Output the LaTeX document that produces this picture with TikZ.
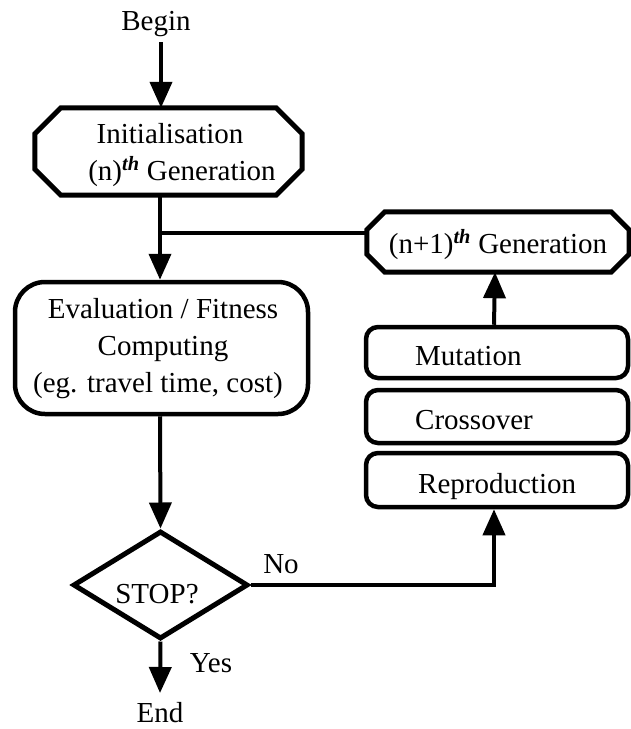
\documentclass[tikz,border=0pt]{standalone}
\usepackage{fontspec}
\setmainfont{Liberation Serif}
\usetikzlibrary{arrows.meta,shapes.geometric,calc}
\newcommand{\chamferbox}[2]{%
  \draw[line width=5pt,line join=miter]
    ([xshift=#2]#1.north west) -- ([xshift=-#2]#1.north east)
    -- ([yshift=-#2]#1.north east) -- ([yshift=#2]#1.south east)
    -- ([xshift=-#2]#1.south east) -- ([xshift=#2]#1.south west)
    -- ([yshift=#2]#1.south west) -- ([yshift=-#2]#1.north west) -- cycle;}
\tikzset{
  txt/.style={font=\fontsize{29}{37}\selectfont, inner sep=0pt},
  shell/.style={draw=none, inner sep=0pt},
  rbox/.style={draw, line width=4.5pt, rounded corners=12pt, inner sep=0pt},
  conn/.style={line width=4pt},
  arr/.style={line width=4pt, -{Triangle[width=22pt,length=26pt]}},
}
\begin{document}
\begin{tikzpicture}[x=1pt,y=-1pt]
\useasboundingbox (0,0) rectangle (631,729);
\coordinate (col) at (160,0);
% begin
\node[txt, anchor=base] (begin) at (156,30) {Begin};
\coordinate (bstart) at (161,42);
% initialisation
\node[shell, minimum width=267pt, minimum height=87pt] (init) at (168.5,151.5) {};
\chamferbox{init}{26pt}
\node[txt, anchor=base] (initA) at (170,143) {Initialisation};
\node[txt, anchor=base] (initB) at (182,180) {(n)\textsuperscript{\textbf{\textit{th}}} Generation};
% next generation
\node[shell, minimum width=262pt, minimum height=60pt] (gen1) at (498,242) {};
\chamferbox{gen1}{18pt}
\node[txt, anchor=base] (gen1t) at (498,253) {(n+1)\textsuperscript{\textbf{\textit{th}}} Generation};
% evaluation
\node[draw, line width=4.5pt, rounded corners=30pt, minimum width=293pt, minimum height=132pt, inner sep=0pt] (eval) at (161.5,348) {};
\node[txt, anchor=base] (evalA) at (163,318) {Evaluation / Fitness};
\node[txt, anchor=base] (evalB) at (163,355) {Computing};
\node[txt, anchor=base] (evalC) at (158,392) {(eg. travel time, cost)};
% operators
\node[rbox, minimum width=262pt, minimum height=51pt] (mut) at (497,352.5) {};
\node[txt, anchor=base west] (mutt) at (415,365) {Mutation};
\node[rbox, minimum width=262pt, minimum height=53pt] (cross) at (497,416.5) {};
\node[txt, anchor=base west] (crosst) at (415,429) {Crossover};
\node[rbox, minimum width=262pt, minimum height=54pt] (repro) at (497,480) {};
\node[txt, anchor=base west] (reprot) at (418,493) {Reproduction};
% decision
\node[draw, diamond, line width=5pt, line join=miter, minimum width=175pt, minimum height=108pt, inner sep=0pt] (stop) at (160.5,585) {};
\node[txt, anchor=base] (stopt) at (157,603) {STOP?};
\node[txt, anchor=base] (no) at (281,573) {No};
\node[txt, anchor=base] (yes) at (211,672) {Yes};
\node[txt, anchor=base] (endt) at (160,722) {End};
\coordinate (endtip) at (160,693);
\coordinate (j) at (160,233);
% connectors
\draw[arr] (bstart) -- (bstart |- init.north);
\draw[arr] (init.south -| col) -- (eval.north -| col);
\draw[conn] (j) -- (j -| gen1.west);
\draw[arr] (eval.south -| col) -- (stop.north);
\draw[arr] (stop.south) -- (endtip);
\draw[arr] (stop.east) -| ([xshift=-3pt]repro.south);
\draw[arr] ([xshift=-3pt]mut.north) -- ([xshift=-3pt]gen1.south);
\end{tikzpicture}
\end{document}
